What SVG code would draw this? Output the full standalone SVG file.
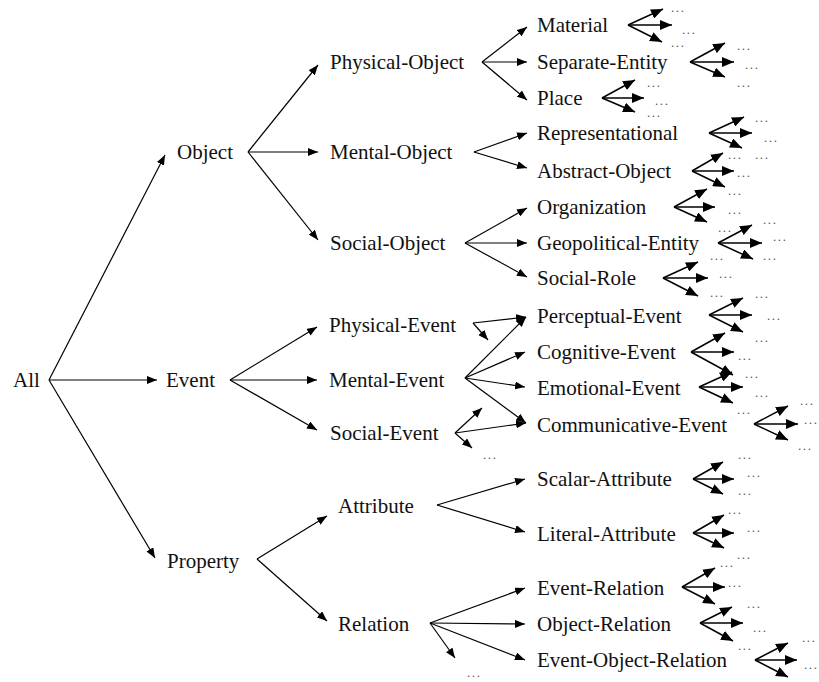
<svg xmlns="http://www.w3.org/2000/svg" width="819" height="682" viewBox="0 0 819 682">
<defs>
<marker id="ah" viewBox="0 0 10 8" refX="10" refY="4" markerWidth="10" markerHeight="8" markerUnits="userSpaceOnUse" orient="auto"><path d="M0,0 L10,4 L0,8 z" fill="#000"/></marker>
<marker id="ah2" viewBox="0 0 12 10" refX="12" refY="5" markerWidth="12" markerHeight="10" markerUnits="userSpaceOnUse" orient="auto"><path d="M0,0 L12,5 L0,10 z" fill="#000"/></marker>
<style>
.lbl{font-family:"Liberation Serif","Times New Roman",serif;font-size:21px;fill:#111}
.dots{font-family:"Liberation Serif","Times New Roman",serif;font-size:13px;letter-spacing:1.6px;fill:#555}
#connectors line{stroke:#000;stroke-width:1.2;marker-end:url(#ah)}
#connectors .leaf line{stroke-width:1.5;marker-end:url(#ah2)}
</style>
</defs>
<rect width="819" height="682" fill="#fff"/>
<g id="connectors">
<!-- All -->
<line x1="49" y1="380" x2="165" y2="155"/>
<line x1="49" y1="380" x2="157" y2="380"/>
<line x1="49" y1="380" x2="155" y2="558"/>
<!-- Object -->
<line x1="248" y1="152" x2="318" y2="65"/>
<line x1="248" y1="152" x2="318" y2="152"/>
<line x1="248" y1="152" x2="318" y2="240"/>
<!-- Event -->
<line x1="230" y1="380" x2="317" y2="327"/>
<line x1="230" y1="380" x2="317" y2="380"/>
<line x1="230" y1="380" x2="317" y2="430"/>
<!-- Property -->
<line x1="257" y1="559" x2="327" y2="516"/>
<line x1="257" y1="559" x2="327" y2="621"/>
<!-- Physical-Object -->
<line x1="482" y1="62" x2="527" y2="27"/>
<line x1="482" y1="62" x2="527" y2="62"/>
<line x1="482" y1="62" x2="527" y2="100"/>
<!-- Mental-Object -->
<line x1="474" y1="152" x2="527" y2="133"/>
<line x1="474" y1="152" x2="527" y2="168"/>
<!-- Social-Object -->
<line x1="465" y1="243" x2="527" y2="208"/>
<line x1="465" y1="243" x2="527" y2="243"/>
<line x1="465" y1="243" x2="527" y2="277"/>
<!-- Physical-Event -->
<line x1="473" y1="323" x2="526" y2="317"/>
<line x1="473" y1="323" x2="488" y2="340"/>
<!-- Mental-Event -->
<line x1="465" y1="378" x2="526" y2="317"/>
<line x1="465" y1="378" x2="525" y2="352"/>
<line x1="465" y1="378" x2="525" y2="387"/>
<line x1="465" y1="378" x2="526" y2="423"/>
<!-- Social-Event -->
<line x1="455" y1="433" x2="482" y2="408"/>
<line x1="455" y1="433" x2="526" y2="423"/>
<line x1="455" y1="433" x2="472" y2="448"/>
<!-- Attribute -->
<line x1="437" y1="505" x2="525" y2="479"/>
<line x1="437" y1="505" x2="525" y2="532"/>
<!-- Relation -->
<line x1="430" y1="623" x2="525" y2="588"/>
<line x1="430" y1="623" x2="525" y2="624"/>
<line x1="430" y1="623" x2="525" y2="660"/>
<line x1="430" y1="623" x2="455" y2="658"/>
<!-- leaf fans -->
<g class="leaf">
<line x1="628" y1="25" x2="663" y2="9"/><line x1="628" y1="25" x2="672" y2="25"/><line x1="628" y1="25" x2="662" y2="42"/>
<line x1="690" y1="62" x2="725" y2="43"/><line x1="690" y1="62" x2="734" y2="62"/><line x1="690" y1="62" x2="725" y2="77"/>
<line x1="602" y1="98" x2="635" y2="80"/><line x1="602" y1="98" x2="644" y2="98"/><line x1="602" y1="98" x2="635" y2="112"/>
<line x1="709" y1="133" x2="744" y2="117"/><line x1="709" y1="133" x2="752" y2="133"/><line x1="709" y1="133" x2="742" y2="148"/>
<line x1="692" y1="171" x2="723" y2="153"/><line x1="692" y1="171" x2="734" y2="171"/><line x1="692" y1="171" x2="725" y2="187"/>
<line x1="674" y1="207" x2="707" y2="189"/><line x1="674" y1="207" x2="715" y2="207"/><line x1="674" y1="207" x2="707" y2="222"/>
<line x1="718" y1="243" x2="752" y2="225"/><line x1="718" y1="243" x2="762" y2="243"/><line x1="718" y1="243" x2="753" y2="259"/>
<line x1="663" y1="278" x2="698" y2="262"/><line x1="663" y1="278" x2="708" y2="278"/><line x1="663" y1="278" x2="698" y2="296"/>
<line x1="709" y1="315" x2="743" y2="298"/><line x1="709" y1="315" x2="752" y2="315"/><line x1="709" y1="315" x2="743" y2="332"/>
<line x1="691" y1="352" x2="725" y2="333"/><line x1="691" y1="352" x2="734" y2="352"/><line x1="691" y1="352" x2="733" y2="375"/>
<line x1="699" y1="387" x2="732" y2="372"/><line x1="699" y1="387" x2="743" y2="387"/><line x1="699" y1="387" x2="733" y2="403"/>
<line x1="754" y1="424" x2="788" y2="406"/><line x1="754" y1="424" x2="798" y2="424"/><line x1="754" y1="424" x2="788" y2="440"/>
<line x1="693" y1="479" x2="723" y2="462"/><line x1="693" y1="479" x2="734" y2="479"/><line x1="693" y1="479" x2="723" y2="494"/>
<line x1="693" y1="533" x2="724" y2="515"/><line x1="693" y1="533" x2="734" y2="533"/><line x1="693" y1="533" x2="724" y2="548"/>
<line x1="682" y1="587" x2="715" y2="568"/><line x1="682" y1="587" x2="725" y2="587"/><line x1="682" y1="587" x2="715" y2="604"/>
<line x1="700" y1="623" x2="732" y2="607"/><line x1="700" y1="623" x2="743" y2="623"/><line x1="700" y1="623" x2="733" y2="641"/>
<line x1="755" y1="660" x2="788" y2="643"/><line x1="755" y1="660" x2="797" y2="660"/><line x1="755" y1="660" x2="788" y2="677"/>
</g>
</g>
<g id="n-all"><text class="lbl" x="13" y="387">All</text></g>
<g id="n-object"><text class="lbl" x="177" y="159">Object</text></g>
<g id="n-event"><text class="lbl" x="166" y="387">Event</text></g>
<g id="n-property"><text class="lbl" x="167" y="568">Property</text></g>
<g id="n-physical-object"><text class="lbl" x="330" y="69">Physical-Object</text></g>
<g id="n-mental-object"><text class="lbl" x="330" y="159">Mental-Object</text></g>
<g id="n-social-object"><text class="lbl" x="330" y="250">Social-Object</text></g>
<g id="n-physical-event"><text class="lbl" x="329" y="332">Physical-Event</text></g>
<g id="n-mental-event"><text class="lbl" x="329" y="387">Mental-Event</text></g>
<g id="n-social-event"><text class="lbl" x="330" y="440">Social-Event</text></g>
<g id="n-attribute"><text class="lbl" x="338" y="513">Attribute</text></g>
<g id="n-relation"><text class="lbl" x="338" y="631">Relation</text></g>
<g id="n-material"><text class="lbl" x="537" y="32">Material</text></g>
<g id="n-separate-entity"><text class="lbl" x="537" y="69">Separate-Entity</text></g>
<g id="n-place"><text class="lbl" x="537" y="105">Place</text></g>
<g id="n-representational"><text class="lbl" x="537" y="140">Representational</text></g>
<g id="n-abstract-object"><text class="lbl" x="537" y="178">Abstract-Object</text></g>
<g id="n-organization"><text class="lbl" x="537" y="214">Organization</text></g>
<g id="n-geopolitical-entity"><text class="lbl" x="537" y="250">Geopolitical-Entity</text></g>
<g id="n-social-role"><text class="lbl" x="537" y="285">Social-Role</text></g>
<g id="n-perceptual-event"><text class="lbl" x="537" y="323">Perceptual-Event</text></g>
<g id="n-cognitive-event"><text class="lbl" x="537" y="359">Cognitive-Event</text></g>
<g id="n-emotional-event"><text class="lbl" x="537" y="395">Emotional-Event</text></g>
<g id="n-communicative-event"><text class="lbl" x="537" y="432">Communicative-Event</text></g>
<g id="n-scalar-attribute"><text class="lbl" x="537" y="486">Scalar-Attribute</text></g>
<g id="n-literal-attribute"><text class="lbl" x="537" y="541">Literal-Attribute</text></g>
<g id="n-event-relation"><text class="lbl" x="537" y="595">Event-Relation</text></g>
<g id="n-object-relation"><text class="lbl" x="537" y="631">Object-Relation</text></g>
<g id="n-event-object-relation"><text class="lbl" x="537" y="667">Event-Object-Relation</text></g>
<g id="ellipses" class="dots">
<text x="671" y="12">...</text><text x="682" y="34">...</text><text x="671" y="47">...</text>
<text x="737" y="50">...</text><text x="745" y="69">...</text><text x="737" y="87">...</text>
<text x="647" y="87">...</text><text x="655" y="105">...</text><text x="647" y="117">...</text>
<text x="755" y="122">...</text><text x="764" y="142">...</text><text x="755" y="159">...</text>
<text x="728" y="159">...</text><text x="737" y="177">...</text><text x="728" y="195">...</text>
<text x="728" y="214">...</text><text x="718" y="232">...</text>
<text x="763" y="224">...</text><text x="773" y="241">...</text><text x="763" y="260">...</text>
<text x="710" y="260">...</text><text x="719" y="278">...</text><text x="710" y="297">...</text>
<text x="755" y="298">...</text><text x="767" y="320">...</text><text x="755" y="342">...</text>
<text x="738" y="360">...</text><text x="745" y="378">...</text>
<text x="755" y="397">...</text><text x="737" y="414">...</text>
<text x="800" y="405">...</text><text x="804" y="424">...</text><text x="798" y="450">...</text>
<text x="483" y="459">...</text>
<text x="738" y="459">...</text><text x="747" y="477">...</text><text x="738" y="495">...</text>
<text x="728" y="514">...</text><text x="747" y="532">...</text><text x="737" y="559">...</text>
<text x="720" y="567">...</text><text x="728" y="587">...</text>
<text x="747" y="608">...</text><text x="753" y="632">...</text><text x="738" y="650">...</text>
<text x="802" y="642">...</text><text x="804" y="669">...</text>
<text x="467" y="677">...</text>
</g>
</svg>
